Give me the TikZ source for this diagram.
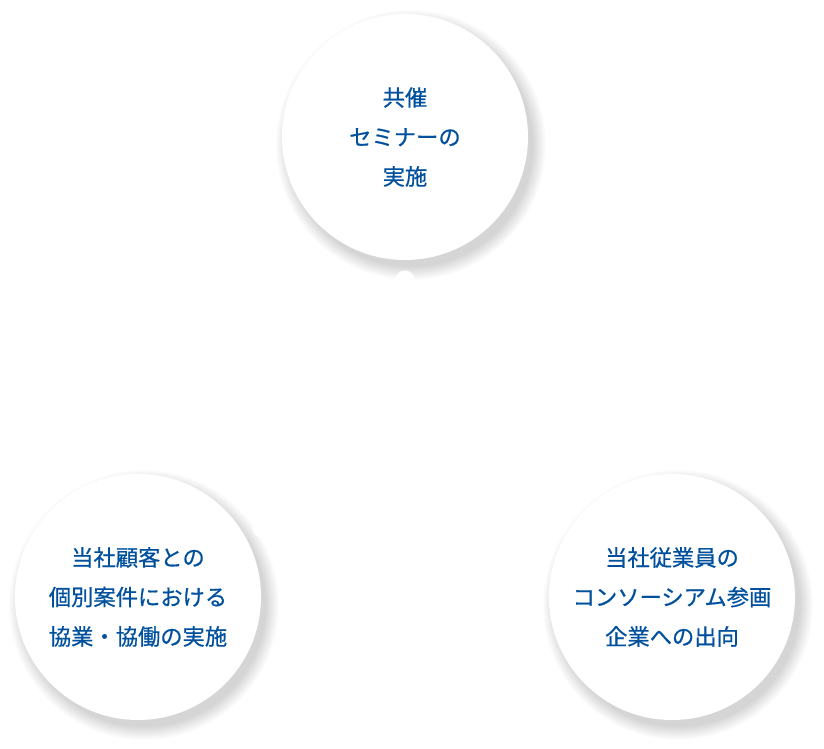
\documentclass[tikz,border=0pt]{standalone}
\usepackage{fontspec}
\newfontfamily\cjk[FakeBold=0.6]{Noto Sans CJK JP}
\usetikzlibrary{positioning, backgrounds, calc}
\definecolor{cText}{RGB}{0, 80, 158}
\definecolor{cShadow}{RGB}{0, 0, 0}

\begin{document}
\begin{tikzpicture}[
    x=1pt, y=1pt,
    bubble/.style={circle, fill=white, minimum size=246pt, inner sep=0pt, align=center, text=cText, font=\cjk\fontsize{22.3}{39.5}\selectfont},
    knob/.style={circle, fill=white, minimum size=19pt, inner sep=0pt}
]

    % Rahmen
    \useasboundingbox (0,0) rectangle (824,749);

    % --- Kreise ---
    \node[bubble] (seminar) at (405,612) {共催\\セミナーの\\実施};
    \node[bubble] (kyogyo) at (138,152) {当社顧客との\\個別案件における\\協業・協働の実施};
    \node[bubble] (shukko) at (672,152) {当社従業員の\\コンソーシアム参画\\企業への出向};

    % --- Schatten ---
    \begin{scope}[on background layer]
        \foreach \c in {seminar, kyogyo, shukko}{
            \foreach \k in {1,...,14}{
                \fill[cShadow, opacity=0.011] ($(\c.center)+(6,-8)$) circle[radius=121+\k];
            }
        }
        % kleine Punkte
        \node[knob] (dotA) at (405,469) {};
        \node[knob] (dotB) at (262,221) {};
    \end{scope}

\end{tikzpicture}
\end{document}
